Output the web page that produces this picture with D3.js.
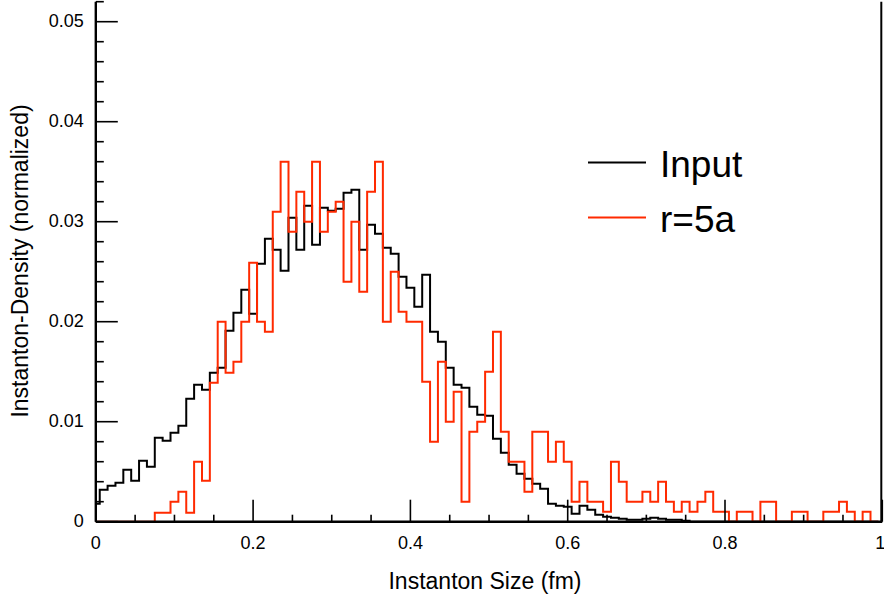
<!DOCTYPE html>
<html><head><meta charset="utf-8">
<script src="https://cdn.jsdelivr.net/npm/d3@7"></script>
<style>html,body{margin:0;padding:0;background:#fff;} svg{display:block;font-family:"Liberation Sans",Arial,Helvetica,sans-serif;}</style>
</head><body><svg id="c" width="884" height="597"></svg>
<script>
// ---- data ----
const binWidth = 0.01;
const binCenters = d3.range(100).map(i => +(i * binWidth).toFixed(2));
const inputValues = [
  0.0018,0.0032,0.0036,0.0039,0.0052,0.0041,0.0061,0.0055,0.0084,0.0081,
  0.0089,0.0096,0.0123,0.0137,0.0132,0.0149,0.0154,0.0191,0.0209,0.0232,
  0.0208,0.0258,0.0283,0.0272,0.0251,0.0304,0.0272,0.0316,0.0277,0.0314,
  0.0311,0.0313,0.0329,0.0332,0.0272,0.0297,0.0288,0.0274,0.0268,0.0245,
  0.0234,0.0215,0.0247,0.0190,0.0180,0.0154,0.0137,0.0134,0.0115,0.0107,
  0.0106,0.0083,0.0069,0.0057,0.0048,0.0043,0.0038,0.0033,0.0018,0.0016,
  0.0015,0.0008,0.0016,0.0012,0.0007,0.0005,0.0004,0.0003,0.0002,0.0002,
  0.0003,0.0004,0.0003,0.0002,0.0002,0.0001,0,0,0,0,
  0,0,0,0,0,0,0,0,0,0,
  0,0,0,0,0,0,0,0,0,0
];
const r5aValues = [
  0,0,0,0,0,0,0,0,0.0009,0.0009,
  0.0020,0.0030,0.0009,0.0060,0.0041,0.0139,0.0200,0.0149,0.0160,0.0200,
  0.0259,0.0200,0.0190,0.0310,0.0360,0.0290,0.0330,0.0300,0.0360,0.0290,
  0.0310,0.0320,0.0240,0.0300,0.0230,0.0330,0.0360,0.0200,0.0250,0.0210,
  0.0200,0.0200,0.0140,0.0080,0.0160,0.0100,0.0130,0.0020,0.0090,0.0100,
  0.0150,0.0190,0.0090,0.0060,0.0060,0.0030,0.0090,0.0090,0.0060,0.0080,
  0.0060,0.0020,0.0040,0.0020,0.0020,0.0010,0.0060,0.0040,0.0020,0.0020,
  0.0030,0.0020,0.0040,0.0020,0.0010,0.0020,0.0010,0.0020,0.0030,0.0010,
  0.0010,0,0.0010,0.0010,0,0.0020,0.0020,0,0,0.0010,
  0.0010,0,0,0.0010,0.0010,0.0020,0.0010,0,0.0010,0
];
const seriesNames = ["Input", "r=5a"];
const seriesColors = ["#000000", "#ff2a00"];
const xTicks = [0, 0.2, 0.4, 0.6, 0.8, 1];
const xTickLabels = ["0", "0.2", "0.4", "0.6", "0.8", "1"];
const yTicks = [0, 0.01, 0.02, 0.03, 0.04, 0.05];
const yTickLabels = ["0", "0.01", "0.02", "0.03", "0.04", "0.05"];
const xTitle = "Instanton Size (fm)";
const yTitle = "Instanton-Density (normalized)";

// ---- layout ----
const L = 95.8, R = 882.3, T = 1.7, B = 521.7;
const svg = d3.select("#c");
const x = d3.scaleLinear().domain([0, 1]).range([L, R]);
const y = d3.scaleLinear().domain([0, 0.052]).range([B, T]);

svg.append("defs").append("clipPath").attr("id", "plot")
  .append("rect").attr("x", L).attr("y", 0).attr("width", x(1) - L - 1).attr("height", B + 1);

function stepPoints(vals) {
  const pts = [[binCenters[0] - binWidth / 2, 0]];
  vals.forEach((v, i) => {
    pts.push([binCenters[i] - binWidth / 2, v]);
    pts.push([binCenters[i] + binWidth / 2, v]);
  });
  pts.push([binCenters[vals.length - 1] + binWidth / 2, 0]);
  return pts;
}
const line = d3.line().x(d => x(d[0])).y(d => y(d[1]));

const g = svg.append("g").attr("clip-path", "url(#plot)");
[inputValues, r5aValues].forEach((vals, i) => {
  g.append("path").attr("d", line(stepPoints(vals)))
    .attr("fill", "none").attr("stroke", seriesColors[i])
    .attr("stroke-width", 2).attr("stroke-linejoin", "miter");
});

// x axis
const xMinor = d3.range(0, 1.0001, 0.05).map(v => +v.toFixed(2)).filter(v => !xTicks.includes(v));
const xAxis = d3.axisBottom(x).tickValues(xTicks).tickFormat((d, i) => xTickLabels[i])
  .tickSizeInner(-22).tickSizeOuter(0).tickPadding(15).offset(0);
const xa = svg.append("g").attr("transform", `translate(0,${B})`).call(xAxis);
xa.selectAll(".tick text").filter(d => d === 1).attr("dx", -2);
svg.append("g").attr("transform", `translate(0,${B})`)
  .call(d3.axisBottom(x).tickValues(xMinor).tickFormat("").tickSizeInner(-7).tickSizeOuter(0).offset(0))
  .select(".domain").remove();

// y axis
const yMinor = d3.range(0, 0.0521, 0.002).map(v => +v.toFixed(3)).filter(v => !yTicks.some(t => Math.abs(t - v) < 1e-9));
const yAxis = d3.axisLeft(y).tickValues(yTicks).tickFormat((d, i) => yTickLabels[i])
  .tickSizeInner(-22).tickSizeOuter(0).tickPadding(12).offset(0);
const ya = svg.append("g").attr("transform", `translate(${L},0)`).call(yAxis);
svg.append("g").attr("transform", `translate(${L},0)`)
  .call(d3.axisLeft(y).tickValues(yMinor).tickFormat("").tickSizeInner(-8).tickSizeOuter(0).offset(0))
  .select(".domain").remove();

svg.selectAll(".tick line").attr("stroke", "#000").attr("stroke-width", 1.6);
svg.selectAll(".domain").attr("stroke", "#000").attr("stroke-width", 2.4);
svg.selectAll(".tick text").attr("font-size", 18).attr("fill", "#000")
  .attr("font-family", "'Liberation Sans', Arial, sans-serif");

// right frame line
svg.append("line").attr("x1", x(1) - 1).attr("x2", x(1) - 1).attr("y1", T).attr("y2", B)
  .attr("stroke", "#000").attr("stroke-width", 2);

// titles
svg.append("text").attr("x", 485).attr("y", 589).attr("text-anchor", "middle")
  .attr("font-size", 23).text(xTitle);
svg.append("text").attr("transform", "translate(28,261) rotate(-90)").attr("text-anchor", "middle")
  .attr("font-size", 23).text(yTitle);

// legend
const leg = svg.append("g");
seriesNames.forEach((name, i) => {
  const yy = 162.5 + i * 55;
  leg.append("line").attr("x1", 588).attr("x2", 646).attr("y1", yy).attr("y2", yy)
    .attr("stroke", seriesColors[i]).attr("stroke-width", 2);
  leg.append("text").attr("x", 660).attr("y", yy + 14).attr("font-size", 37).text(name);
});
</script></body></html>
